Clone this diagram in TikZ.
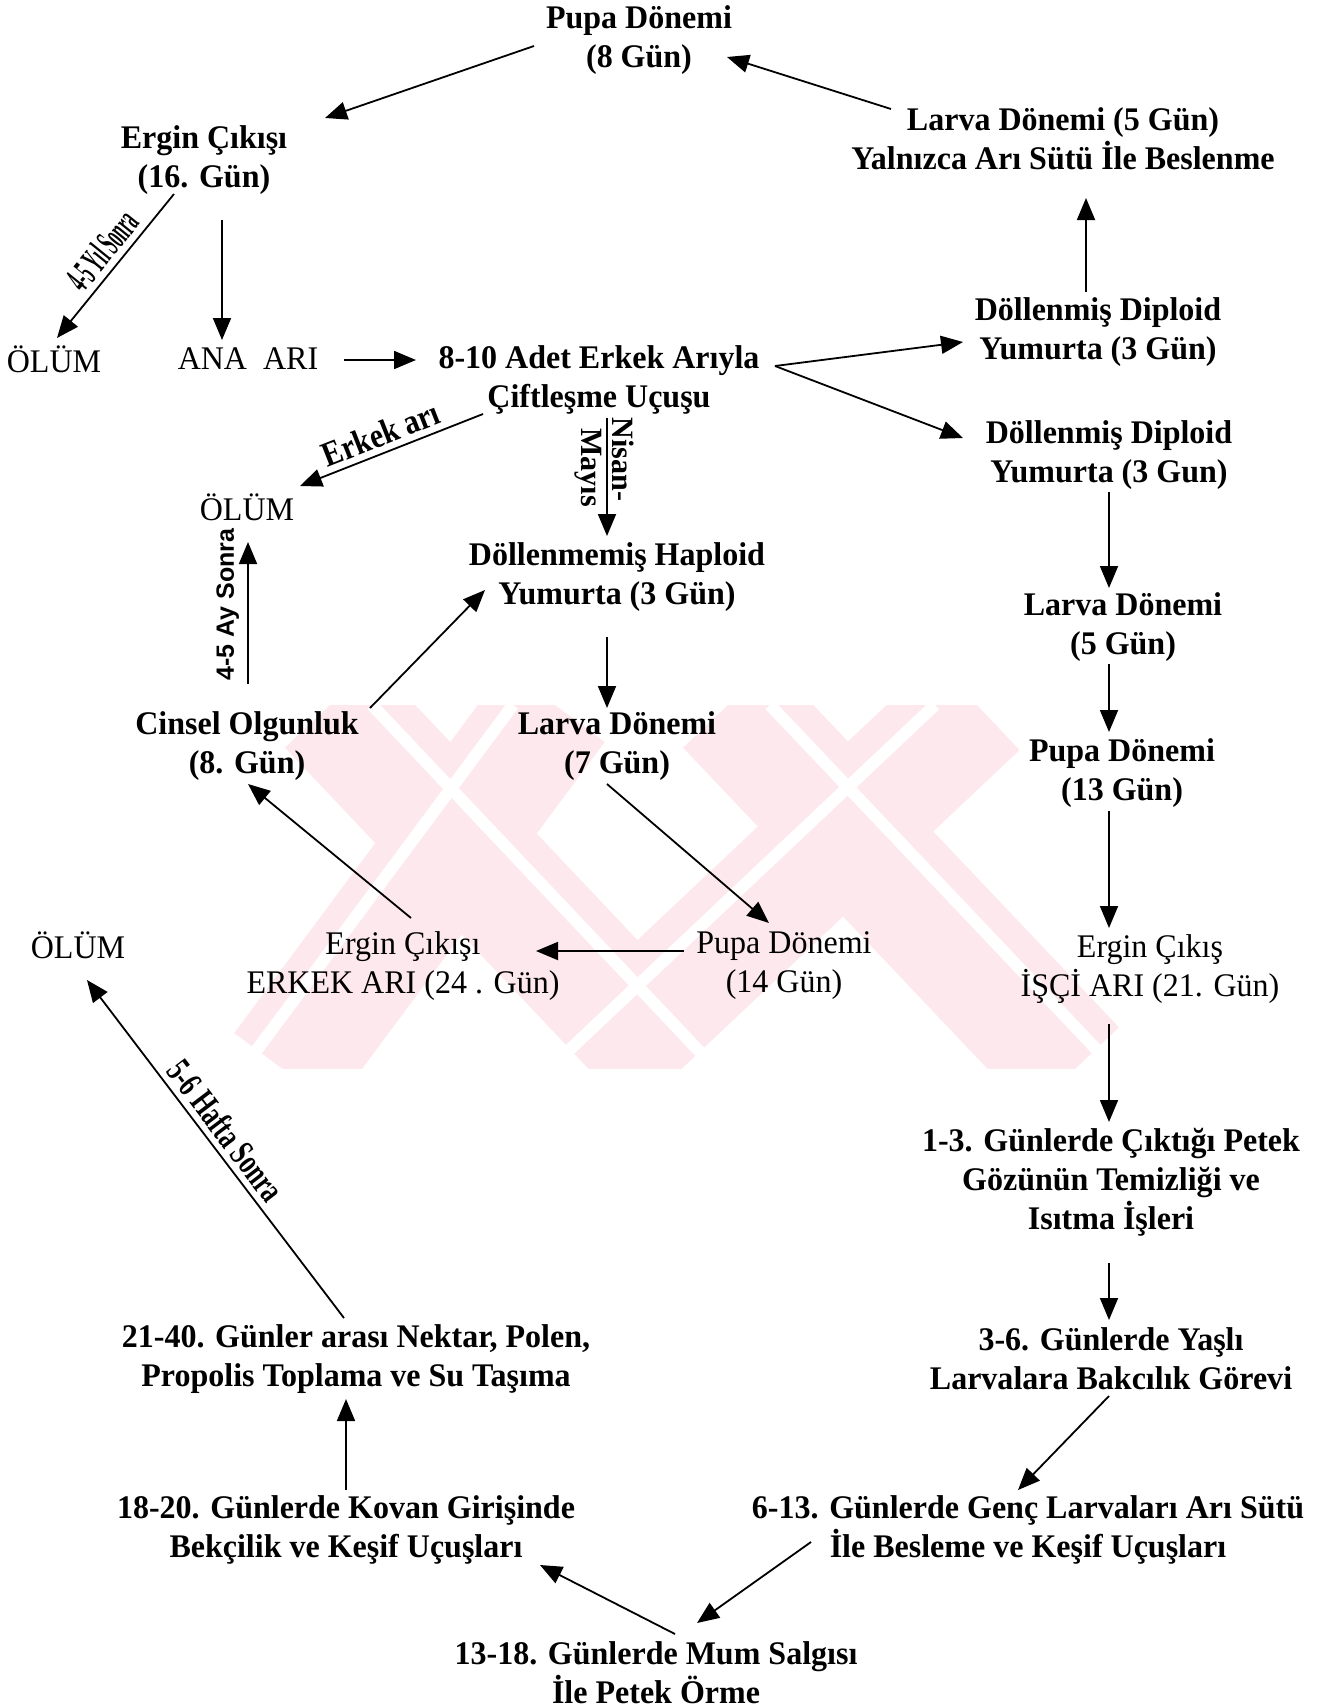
\documentclass[tikz,border=0pt]{standalone}
\usepackage{fontspec}
\setmainfont{Liberation Serif}[FakeStretch=0.97]
\newfontfamily\narrowfont{Liberation Serif}[FakeStretch=0.42]
\newfontfamily\narrowB{Liberation Serif}[FakeStretch=0.68]
\newfontfamily\narrowC{Liberation Serif}[FakeStretch=0.85]
\newfontfamily\labsans{Liberation Sans}
\usetikzlibrary{arrows.meta}
\definecolor{wm}{RGB}{253,233,237}
\begin{document}
\begin{tikzpicture}[x=0.5pt,y=-0.5pt,
  txt/.style={align=center,inner sep=0pt,font=\fontsize{16.5}{19.5}\selectfont\bfseries},
  txtr/.style={align=center,inner sep=0pt,font=\fontsize{16.5}{19.5}\selectfont},
  arr/.style={line width=0.9pt,-{Triangle[length=11pt,width=9pt]}},
  wmband/.style={wm,line width=62pt},
  wmgap/.style={white,line width=6pt}]
\useasboundingbox (0,0) rectangle (1321,1708);
% watermark
\begin{scope}
\clip (205,705) rectangle (1160,1068);
\draw[wmband] (330,705) -- (675,1070);
\draw[wmband] (555,705) -- (284,1070);
\draw[wmband] (728,705) -- (1074,1070);
\draw[wmband] (977,705) -- (590,1070);
\draw[wmgap] (372,705) -- (717,1070);
\draw[wmgap] (513,705) -- (242,1070);
\draw[wmgap] (770,705) -- (1116,1070);
\draw[wmgap] (935,705) -- (548,1070);
\end{scope}
% nodes
\node[txt] (pupa8) at (639,40) {Pupa Dönemi\\(8 Gün)};
\node[txt] (ergin16) at (204,160) {Ergin Çıkışı\\(16. Gün)};
\node[txt] (larvatop) at (1063,139) {Larva Dönemi (5 Gün)\\Yalnızca Arı Sütü İle Beslenme};
\node[txtr] (olum1) at (54,359) {ÖLÜM};
\node[txtr] (anaari) at (248,359) {ANA\ \ ARI};
\node[txt] (cift) at (599,380) {8-10 Adet Erkek Arıyla\\Çiftleşme Uçuşu};
\node[txt] (dip1) at (1098,332) {Döllenmiş Diploid\\Yumurta (3 Gün)};
\node[txt] (dip2) at (1109,455) {Döllenmiş Diploid\\Yumurta (3 Gun)};
\node[txtr] (olum2) at (247,507) {ÖLÜM};
\node[txt] (hap) at (617,577) {Döllenmemiş Haploid\\Yumurta (3 Gün)};
\node[txt] (larva5) at (1123,627) {Larva Dönemi\\(5 Gün)};
\node[txt] (cinsel) at (247,746) {Cinsel Olgunluk\\(8. Gün)};
\node[txt] (larva7) at (617,746) {Larva Dönemi\\(7 Gün)};
\node[txt] (pupa13) at (1122,773) {Pupa Dönemi\\(13 Gün)};
\node[txtr] (olum3) at (78,945) {ÖLÜM};
\node[txtr] (erginerkek) at (403,966) {Ergin Çıkışı\\ERKEK ARI (24 . Gün)};
\node[txtr] (pupa14) at (784,966) {Pupa Dönemi\\(14 Gün)};
\node[txtr] (erginisci) at (1150,969) {Ergin Çıkış\\İŞÇİ ARI (21. Gün)};
\node[txt] (g13) at (1111,1182) {1-3. Günlerde Çıktığı Petek\\Gözünün Temizliği ve\\Isıtma İşleri};
\node[txt] (g2140) at (356,1359) {21-40. Günler arası Nektar, Polen,\\Propolis Toplama ve Su Taşıma};
\node[txt] (g36) at (1111,1359) {3-6. Günlerde Yaşlı\\Larvalara Bakcılık Görevi};
\node[txt] (g1820) at (346,1530) {18-20. Günlerde Kovan Girişinde\\Bekçilik ve Keşif Uçuşları};
\node[txt] (g613) at (1028,1530) {6-13. Günlerde Genç Larvaları Arı Sütü\\İle Besleme ve Keşif Uçuşları};
\node[txt] (g1318) at (656,1673) {13-18. Günlerde Mum Salgısı\\İle Petek Örme};
% connectors
\draw[arr] ([shift={(-105,6)}]pupa8.center) -- ([shift={(121,-42)}]ergin16.center);
\draw[arr] ([shift={(-172,-30)}]larvatop.center) -- ([shift={(88,17)}]pupa8.center);
\draw[arr] ([shift={(-12,-40)}]dip1.center) -- ([shift={(23,59)}]larvatop.center);
\draw[arr] ([shift={(-30,34)}]ergin16.center) -- ([shift={(3,-21)}]olum1.center)
  node[pos=0.48,rotate=51,anchor=south,inner sep=3pt,font=\fontsize{19}{19}\narrowfont\bfseries] {4-5 Yıl Sonra};
\draw[arr] ([shift={(18,60)}]ergin16.center) -- ([shift={(-26,-19)}]anaari.center);
\draw[arr] ([shift={(96,1)}]anaari.center) -- ([shift={(-183,-20)}]cift.center);
\draw[arr] ([shift={(176,-14)}]cift.center) -- ([shift={(-135,10)}]dip1.center);
\draw[arr] ([shift={(176,-14)}]cift.center) -- ([shift={(-146,-17)}]dip2.center);
\draw[arr] ([shift={(-116,34)}]cift.center) -- ([shift={(53,-21)}]olum2.center)
  node[pos=0.52,rotate=21.5,anchor=south,inner sep=3pt,font=\fontsize{17.5}{17.5}\narrowC\bfseries] {Erkek arı};
\draw[arr] ([shift={(8,38)}]cift.center) -- ([shift={(-10,-41)}]hap.center)
  node[pos=0.35,rotate=-90,anchor=south,inner sep=2pt,font=\fontsize{15.5}{15.5}\selectfont\bfseries] {Nisan-}
  node[pos=0.42,rotate=-90,anchor=north,inner sep=2pt,font=\fontsize{15.5}{15.5}\selectfont\bfseries] {Mayıs};
\draw[arr] ([shift={(0,37)}]dip2.center) -- ([shift={(-14,-39)}]larva5.center);
\draw[arr] ([shift={(-14,37)}]larva5.center) -- ([shift={(-13,-41)}]pupa13.center);
\draw[arr] ([shift={(-13,38)}]pupa13.center) -- ([shift={(-41,-41)}]erginisci.center);
\draw[arr] ([shift={(-41,55)}]erginisci.center) -- ([shift={(-2,-60)}]g13.center);
\draw[arr] ([shift={(-2,81)}]g13.center) -- ([shift={(-2,-39)}]g36.center);
\draw[arr] ([shift={(-2,37)}]g36.center) -- ([shift={(-10,-40)}]g613.center);
\draw[arr] ([shift={(-217,12)}]g613.center) -- ([shift={(41,-50)}]g1318.center);
\draw[arr] ([shift={(19,-39)}]g1318.center) -- ([shift={(194,35)}]g1820.center);
\draw[arr] ([shift={(0,-40)}]g1820.center) -- ([shift={(-10,40)}]g2140.center);
\draw[arr] ([shift={(-12,-41)}]g2140.center) -- ([shift={(9,35)}]olum3.center)
  node[pos=0.52,rotate=-52.8,anchor=south,inner sep=3pt,font=\fontsize{18}{18}\narrowB\bfseries] {5-6 Hafta Sonra};
\draw[arr] ([shift={(-100,-15)}]pupa14.center) -- ([shift={(133,-15)}]erginerkek.center);
\draw[arr] ([shift={(-10,38)}]larva7.center) -- ([shift={(-15,-43)}]pupa14.center);
\draw[arr] ([shift={(8,-48)}]erginerkek.center) -- ([shift={(1,38)}]cinsel.center);
\draw[arr] ([shift={(123,-38)}]cinsel.center) -- ([shift={(-132,13)}]hap.center);
\draw[arr] ([shift={(1,-62)}]cinsel.center) -- ([shift={(1,35)}]olum2.center)
  node[pos=0.56,rotate=90,anchor=south,inner sep=4pt,font=\fontsize{12.5}{12.5}\labsans\bfseries] {4-5 Ay Sonra};
\draw[arr] ([shift={(-10,60)}]hap.center) -- ([shift={(-10,-38)}]larva7.center);
\end{tikzpicture}
\end{document}
